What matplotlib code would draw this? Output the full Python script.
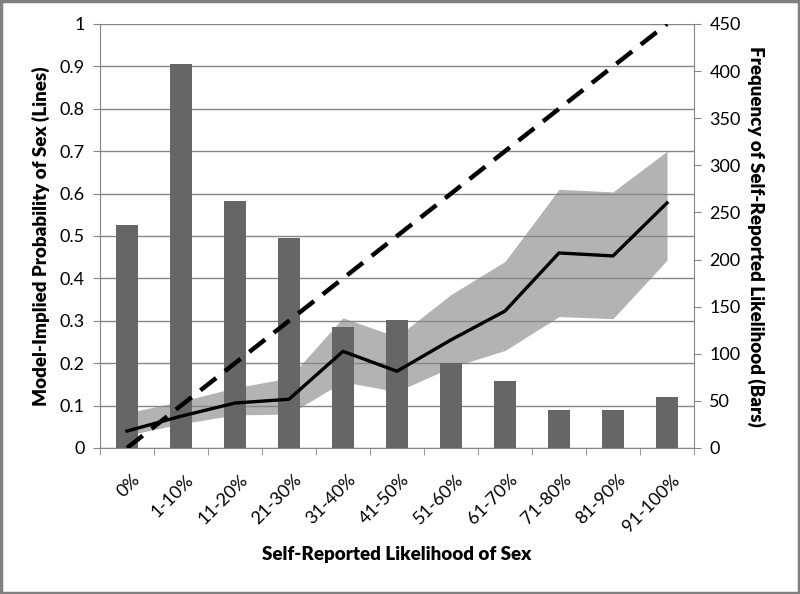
import matplotlib.pyplot as plt
import numpy as np
from matplotlib.patches import Rectangle

plt.rcParams['font.family'] = ['Lato', 'DejaVu Sans']

# Categories (self-reported likelihood)
categories = ["0%", "1-10%", "11-20%", "21-30%", "31-40%", "41-50%",
              "51-60%", "61-70%", "71-80%", "81-90%", "91-100%"]

# Frequency of self-reported likelihood (bars, right axis)
freq = [237, 408, 262, 223, 128, 136, 90, 71, 40, 40, 54]

# Model-implied probability (solid line) and its band
prob = [0.040, 0.075, 0.106, 0.115, 0.228, 0.181, 0.255, 0.323, 0.460, 0.453, 0.578]
band_lo = [0.030, 0.057, 0.078, 0.080, 0.156, 0.133, 0.190, 0.230, 0.310, 0.305, 0.443]
band_hi = [0.083, 0.110, 0.142, 0.165, 0.307, 0.262, 0.362, 0.440, 0.610, 0.604, 0.700]

# Reference line (perfect calibration, dashed)
ref = [0.0, 0.1, 0.2, 0.3, 0.4, 0.5, 0.6, 0.7, 0.8, 0.9, 1.0]

x = np.arange(len(categories))
grid_c = "#868686"

fig = plt.figure(figsize=(8, 5.94), dpi=100)
ax = fig.add_axes([0.125, 0.2458, 0.7425, 0.7138])
ax2 = ax.twinx()
ax3 = ax.twinx()
ax.set_zorder(0)
ax2.set_zorder(1)
ax3.set_zorder(2)
ax2.patch.set_visible(False)
ax3.patch.set_visible(False)

# band + grid on the bottom axes
ax.fill_between(x, band_lo, band_hi, color="#b3b3b3", linewidth=0, zorder=1)
ax.set_ylim(0, 1)
ax.set_yticks(np.arange(0, 1.01, 0.1))
ax.set_yticklabels(["0", "0.1", "0.2", "0.3", "0.4", "0.5", "0.6", "0.7", "0.8", "0.9", "1"])
ax.yaxis.grid(True, color=grid_c, linewidth=1, zorder=2)
ax.set_axisbelow(False)
ax.set_xlim(-0.5, len(categories) - 0.5)
ax.set_xticks(x + 0.08)
ax.set_xticklabels(categories, rotation=45, ha="right", rotation_mode="anchor", fontsize=13)
ax.tick_params(axis="x", which="major", length=0, pad=17)
ax.set_xticks(np.arange(-0.5, len(categories), 1), minor=True)
ax.tick_params(axis="x", which="minor", length=5, color=grid_c)
ax.tick_params(axis="y", length=5, color=grid_c, labelsize=13, pad=6)
for s in ["top", "right"]:
    ax.spines[s].set_visible(False)
for s in ["left", "bottom"]:
    ax.spines[s].set_color(grid_c)
ax.set_ylabel("Model-Implied Probability of Sex (Lines)", fontsize=13.5, fontweight="heavy", labelpad=7)
ax.set_xlabel("Self-Reported Likelihood of Sex", fontsize=13.5, fontweight="heavy", labelpad=8)

# bars on right axis
ax2.bar(x, freq, width=0.39, color="#666666", zorder=3)
ax2.set_ylim(0, 450)
ax2.set_yticks(np.arange(0, 451, 50))
ax2.tick_params(axis="y", length=5, color=grid_c, labelsize=13, pad=6)
for s in ["top", "left", "bottom"]:
    ax2.spines[s].set_visible(False)
ax2.spines["right"].set_color(grid_c)
ax2.set_ylabel("Frequency of Self-Reported Likelihood (Bars)", fontsize=13.5,
               fontweight="heavy", rotation=-90, labelpad=18)

# lines on top
ax3.plot(x, ref, color="black", linewidth=3.2, linestyle=(0, (4.5, 2.5)))
ax3.plot(x, prob, color="black", linewidth=2.4)
ax3.set_ylim(0, 1)
ax3.set_yticks([])
for s in ax3.spines.values():
    s.set_visible(False)

fig.patches.append(Rectangle((0.001, 0.001), 0.998, 0.997, transform=fig.transFigure,
                             fill=False, edgecolor="#808080", linewidth=2.5))

fig.savefig("out.png", dpi=100)
